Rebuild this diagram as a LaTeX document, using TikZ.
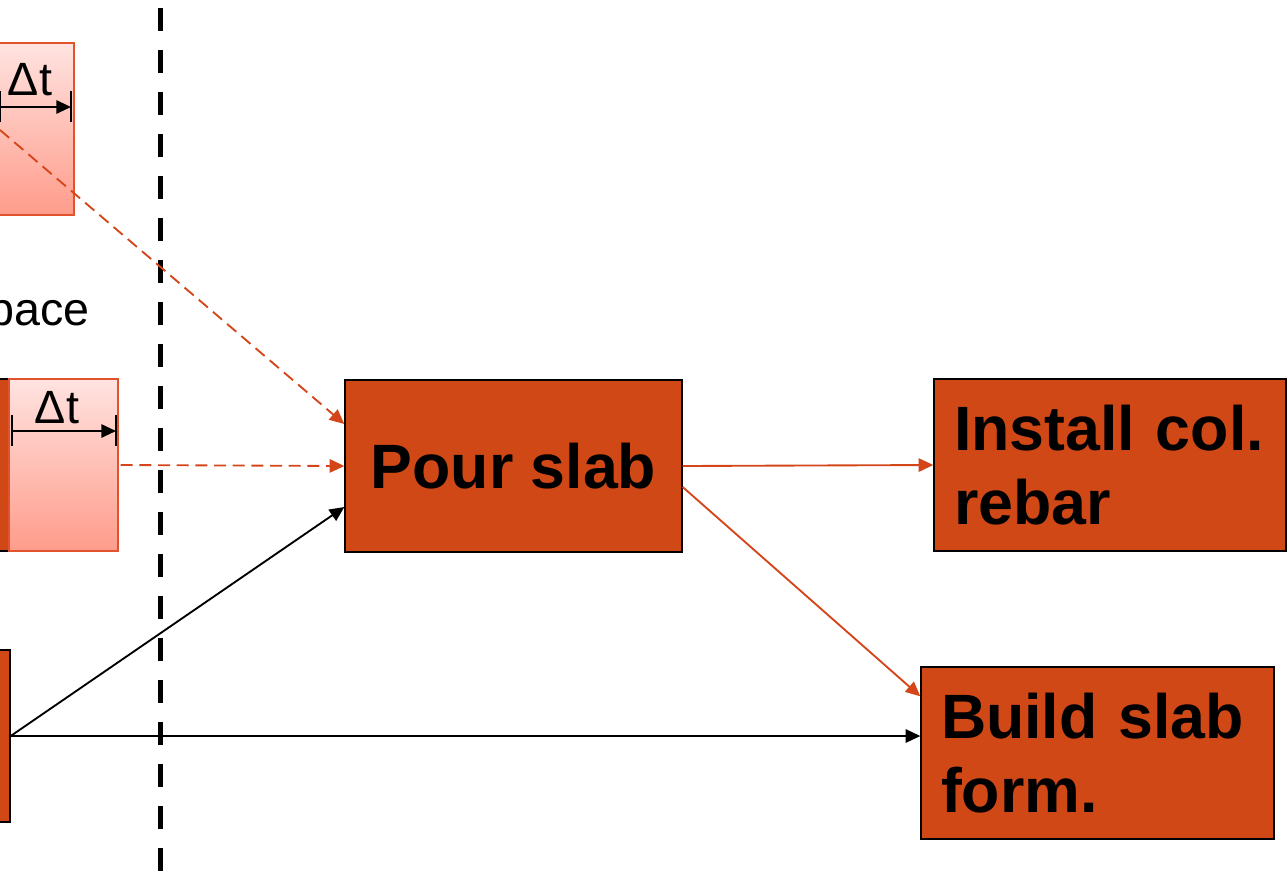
\documentclass[tikz,border=0pt]{standalone}
\usepackage{fontspec}
\setmainfont{Liberation Sans}
\usetikzlibrary{arrows.meta}

\definecolor{taskfill}{HTML}{D14817}
\definecolor{linkorange}{HTML}{D4461A}
\definecolor{lagtop}{HTML}{FFE3E0}
\definecolor{lagbottom}{HTML}{FF9C8B}
\definecolor{lagedge}{HTML}{E2532D}

\begin{document}
\begin{tikzpicture}[x=0.75pt,y=-0.75pt,
  task/.style={draw=black, line width=1pt, fill=taskfill, minimum height=129pt,
    inner sep=0pt, font=\fontsize{47}{56}\selectfont\bfseries},
  tasktext/.style={task, inner xsep=15pt, align=left},
  lagbox/.style={draw=lagedge, line width=1pt, top color=lagtop, bottom color=lagbottom,
    minimum height=129pt, inner sep=0pt},
  lagtext/.style={font=\fontsize{35}{42}\selectfont, anchor=base, inner sep=0pt},
  tip/.style={-{Triangle[length=11pt,width=10pt]}},
  dimline/.style={line width=1.4pt, tip},
  tick/.style={line width=1.4pt},
  redlink/.style={draw=linkorange, line width=1.4pt, tip, color=linkorange},
  redlag/.style={redlink, dash pattern=on 9pt off 5pt},
  blacklink/.style={draw=black, line width=1.4pt, tip},
  cutline/.style={draw=black, line width=3.75pt, dash pattern=on 17.25pt off 14.25pt}
]
\useasboundingbox (0,0) rectangle (1287,879);

% left-hand activities, partly off the sheet
\node[lagbox, minimum width=85.5pt] (lagA) at (17,129) {};
\node[task, minimum width=36.75pt] (taskB) at (-15.5,465) {};
\node[lagbox, minimum width=81.75pt] (lagB) at (63.5,465) {};
\node[task, minimum width=37.5pt] (taskC) at (-15,736) {};

% lag dimensions
\node[lagtext] (dtA) at (30,95) {Δt};
\draw[dimline] (0,107) -- (71,107);
\draw[tick] (0,91) -- (0,122);
\draw[tick] (71,91) -- (71,122);

\node[lagtext] (dtB) at (57,423) {Δt};
\draw[dimline] (12,431) -- (116,431);
\draw[tick] (12,415) -- (12,446);
\draw[tick] (116,415) -- (116,446);

\node[lagtext, anchor=base east] (spacelbl) at (90,325) {space};

% data date
\draw[cutline] (160,-34) -- (160,879);

% current activities
\node[task, minimum width=252.75pt] (pour) at (513.5,466) {Pour slab};
\node[tasktext, minimum width=264pt, text width=234pt] (install) at (1110,465) {Install col.\\rebar};
\node[tasktext, minimum width=264.75pt, text width=234.75pt] (build) at (1097.5,753) {Build slab\\form.};

% links
\coordinate (srcA) at (0,130);
\draw[redlag] (srcA) -- ([yshift=31.5pt]pour.west);
\draw[redlag, shorten <=1.5pt] (lagB.east) -- (pour.west);
\draw[blacklink] (taskC.east) -- ([yshift=-30.75pt]pour.west);
\draw[blacklink] (taskC.east) -- (build.west |- taskC.east);
\draw[redlink] (pour.east) -- (install.west);
\draw[redlink] ([yshift=-15.75pt]pour.east) -- ([yshift=-22.5pt]build.north west);
\end{tikzpicture}
\end{document}
